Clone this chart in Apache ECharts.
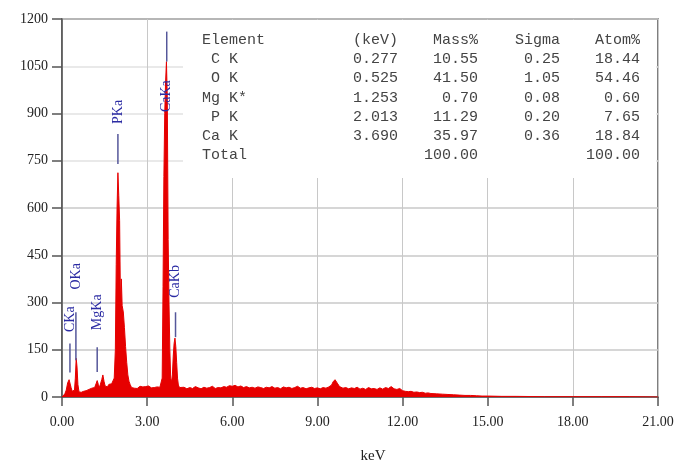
<!DOCTYPE html>
<html lang="en">
<head>
<meta charset="UTF-8">
<title>EDS spectrum</title>
<script src="https://cdn.jsdelivr.net/npm/echarts@6/dist/echarts.min.js"></script>
<style>
    html, body { margin: 0; padding: 0; background: #fff; }
    #chart { width: 685px; height: 469px; }
</style>
</head>
<body>
<div id="chart"></div>
<script>
// spectrum (keV / counts)
var energy = [
    0.00, 0.05, 0.10, 0.15, 0.20, 0.25, 0.28, 0.32, 0.36, 0.40, 0.44, 0.47, 0.50, 0.53, 0.56, 0.60,
    0.64, 0.68, 0.72, 0.76, 0.80, 0.85, 0.90, 0.95, 1.00, 1.05, 1.10, 1.15, 1.20, 1.24, 1.28, 1.32,
    1.36, 1.40, 1.44, 1.48, 1.52, 1.56, 1.60, 1.65, 1.70, 1.75, 1.80,
    1.84, 1.88, 1.91, 1.94, 1.97, 2.00, 2.03, 2.06, 2.09, 2.12, 2.16, 2.20, 2.24, 2.28, 2.32, 2.36, 2.40,
    2.45, 2.50, 2.55, 2.60, 2.65, 2.70, 2.75, 2.80, 2.85, 2.90, 2.95, 3.00, 3.05, 3.10, 3.15, 3.20,
    3.25, 3.30, 3.35, 3.40, 3.45, 3.50,
    3.53, 3.56, 3.59, 3.62, 3.65, 3.68, 3.71, 3.74, 3.77, 3.80, 3.83, 3.86, 3.89, 3.92, 3.95, 3.98,
    4.01, 4.04, 4.07, 4.10, 4.14,
    4.2, 4.3, 4.4, 4.5, 4.6, 4.7, 4.8, 4.9, 5.0, 5.1, 5.2, 5.3, 5.4, 5.5, 5.6, 5.7, 5.8, 5.9,
    6.0, 6.1, 6.2, 6.3, 6.4, 6.5, 6.6, 6.7, 6.8, 6.9, 7.0, 7.1, 7.2, 7.3, 7.4, 7.5, 7.6, 7.7,
    7.8, 7.9, 8.0, 8.1, 8.2, 8.3, 8.4, 8.5, 8.6, 8.7, 8.8, 8.9, 9.0, 9.1, 9.2, 9.3, 9.4, 9.5,
    9.55, 9.62, 9.70, 9.78, 9.9, 10.0, 10.1, 10.2, 10.3, 10.4, 10.5, 10.6, 10.7, 10.8, 10.9,
    11.0, 11.1, 11.2, 11.3, 11.4, 11.5, 11.6, 11.7, 11.8, 11.9, 12.0, 12.1, 12.2, 12.3, 12.4,
    12.5, 12.6, 12.7, 12.8, 12.9, 13.0, 13.2, 13.4, 13.6, 13.8, 14.0, 14.2, 14.4, 14.6, 14.8,
    15.0, 15.5, 16.0, 17.0, 18.0, 19.0, 20.0, 21.0
];
var counts = [
    0, 5, 10, 22, 45, 55, 52, 30, 18, 12, 22, 60, 123, 95, 40, 16,
    12, 15, 12, 18, 14, 20, 17, 24, 22, 28, 25, 30, 42, 52, 40, 30,
    35, 55, 70, 50, 35, 38, 32, 40, 36, 42, 40,
    60, 150, 420, 600, 712, 640, 560, 300, 375, 290, 270, 220, 160, 110, 70, 50, 40,
    30, 33, 28, 31, 27, 30, 34, 29, 32, 28, 33, 30, 35, 31, 29, 34,
    30, 36, 32, 34, 31, 36,
    60, 350, 700, 900, 1000, 1065, 950, 500, 300, 150, 60, 48, 70, 130, 170, 187,
    160, 110, 60, 38, 30,
    28, 31, 26, 30, 27, 33, 29, 26, 31, 28, 30, 34, 27, 30, 29, 33, 31, 36,
    34, 37, 32, 35, 30, 33, 29, 31, 28, 32, 30, 27, 31, 29, 33, 28, 30, 26,
    32, 29, 31, 27, 30, 34, 28, 30, 26, 29, 31, 27, 29, 26, 30, 28, 32, 38,
    48, 55, 44, 33, 28, 30, 26, 29, 27, 31, 25, 28, 24, 30, 26,
    27, 24, 29, 25, 30, 27, 33, 26, 24, 27, 20, 18, 17, 18, 15,
    16, 14, 15, 12, 13, 11, 10, 9, 8, 7, 6, 5, 5, 4, 3,
    3, 2, 2, 1, 1, 1, 1, 0
];

// peak markers: name, keV, line bottom/top (counts), label centre (counts)
var markerNames = ['CKa', 'OKa', 'MgKa', 'PKa', 'CaKa', 'CaKb'];
var markerKeV = [0.28, 0.49, 1.24, 1.97, 3.69, 4.00];
var markerLow = [78, 117, 79, 740, 1065, 190];
var markerHigh = [170, 269, 158, 835, 1160, 269];
var markerLabelAt = [247, 383, 269, 905, 955, 367];

// quantification table
var tableHead = ['Element', '(keV)', 'Mass%', 'Sigma', 'Atom%'];
var tableElem = [' C K', ' O K', 'Mg K*', ' P K', 'Ca K', 'Total'];
var tableKeV = ['0.277', '0.525', '1.253', '2.013', '3.690', ''];
var tableMass = ['10.55', '41.50', '0.70', '11.29', '35.97', '100.00'];
var tableSigma = ['0.25', '1.05', '0.08', '0.20', '0.36', ''];
var tableAtom = ['18.44', '54.46', '0.60', '7.65', '18.84', '100.00'];

var chart = echarts.init(document.getElementById('chart'));

var colX = [202, 398, 478, 560, 640];
var graphics = [{
    type: 'rect', z: 5, silent: true,
    shape: { x: 183, y: 20, width: 473, height: 158 },
    style: { fill: '#fff' }
}];
var rows = [tableHead];
tableElem.forEach(function (e, i) {
    rows.push([e, tableKeV[i], tableMass[i], tableSigma[i], tableAtom[i]]);
});
rows.forEach(function (r, i) {
    r.forEach(function (t, j) {
        graphics.push({
            type: 'text', z: 6, silent: true,
            x: colX[j], y: 40 + i * 19.2,
            style: {
                text: t, fill: '#444', font: '15px "Liberation Mono"',
                align: j === 0 ? 'left' : 'right', textAlign: j === 0 ? 'left' : 'right',
                verticalAlign: 'middle', textVerticalAlign: 'middle'
            }
        });
    });
});

var gridC = '#c8c8c8', gridL = '#e2e2e2';

var option = {
    animation: false,
    grid: { left: 62, right: 27, top: 19, bottom: 72, show: true, borderColor: '#555', borderWidth: 1.5 },
    xAxis: {
        type: 'value', min: 0, max: 21, interval: 3,
        name: 'keV', nameLocation: 'middle', nameGap: 52,
        nameTextStyle: { fontFamily: 'Liberation Serif', fontSize: 15, color: '#222', padding: [0, 0, 0, 26] },
        axisLine: { lineStyle: { color: '#555', width: 1.5 } },
        axisTick: { length: 9, lineStyle: { color: '#555', width: 1.5 } },
        axisLabel: {
            margin: 18, fontFamily: 'Liberation Serif', fontSize: 14, color: '#222',
            formatter: function (v) { return v.toFixed(2); }
        },
        splitLine: { show: true, lineStyle: { color: gridC, width: 1 } }
    },
    yAxis: {
        type: 'value', min: 0, max: 1200, interval: 150,
        axisLine: { show: true, lineStyle: { color: '#555', width: 1.5 } },
        axisTick: { show: true, length: 10, lineStyle: { color: '#555', width: 1.5 } },
        axisLabel: {
            margin: 14, fontFamily: 'Liberation Serif', fontSize: 14, color: '#222',
            formatter: function (v) { return String(v); }
        },
        splitLine: {
            show: true,
            lineStyle: { color: [gridC, gridC, gridC, gridC, gridC, gridL, gridL, gridL, gridC], width: 1.5 }
        }
    },
    graphic: graphics,
    series: [
        {
            type: 'line', z: 2, symbol: 'none', showSymbol: false,
            data: energy.map(function (e, i) { return [e, counts[i]]; }),
            lineStyle: { color: '#e60000', width: 1 },
            areaStyle: { color: '#e60000', opacity: 1 }
        },
        {
            type: 'custom', z: 3, silent: true,
            data: markerKeV.map(function (k, i) { return [k, markerLow[i], markerHigh[i], markerLabelAt[i]]; }),
            encode: { x: 0, y: 1 },
            renderItem: function (params, api) {
                var a = api.coord([api.value(0), api.value(1)]);
                var b = api.coord([api.value(0), api.value(2)]);
                var c = api.coord([api.value(0), api.value(3)]);
                return {
                    type: 'group',
                    children: [
                        {
                            type: 'line',
                            shape: { x1: a[0], y1: a[1], x2: b[0], y2: b[1] },
                            style: { stroke: '#55579a', lineWidth: 1.5 }
                        },
                        {
                            type: 'text', x: c[0], y: c[1], rotation: Math.PI / 2,
                            style: {
                                text: markerNames[params.dataIndex], fill: '#2b2ba3',
                                font: '14px "Liberation Serif"',
                                align: 'center', textAlign: 'center',
                                verticalAlign: 'middle', textVerticalAlign: 'middle'
                            }
                        }
                    ]
                };
            }
        }
    ]
};
chart.setOption(option);
</script>
</body>
</html>
